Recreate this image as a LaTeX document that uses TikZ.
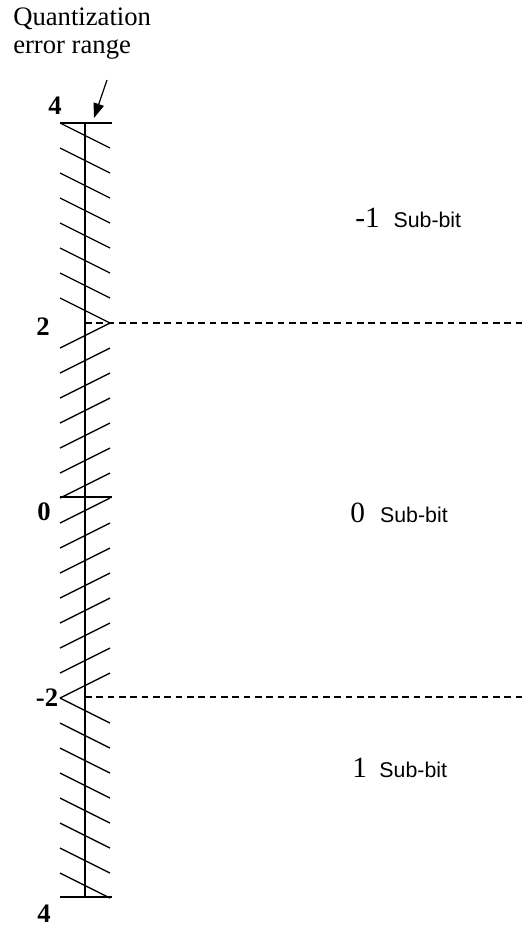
\documentclass[tikz,border=0pt]{standalone}
\usepackage{fontspec}
\setmainfont{Liberation Serif}
\setsansfont{Liberation Sans}
\usetikzlibrary{positioning, arrows.meta}

\begin{document}
\begin{tikzpicture}[
  x=0.75pt, y=-0.75pt,
  axisline/.style={line width=1pt},
  hatch/.style={line width=1pt},
  level/.style={dash pattern=on 5pt off 3.5pt, line width=0.8pt},
  ticklabel/.style={font=\fontsize{20}{20}\selectfont\bfseries, inner sep=0pt},
  bitnum/.style={font=\fontsize{22}{22}\selectfont, anchor=base west, inner sep=0pt},
  bitname/.style={font=\sffamily\fontsize{16}{16}\selectfont, inner sep=0pt},
  pointer/.style={-{Triangle[length=11pt, width=8pt]}, line width=0.9pt}
]
\useasboundingbox (0,0) rectangle (523,928);
% Caption and arrow
\node[anchor=north west, align=left, inner sep=0pt, font=\fontsize{20}{21}\selectfont] (qlabel) at (13,8) {Quantization\\error range};
\coordinate (arrtail) at (107,80);
\coordinate (arrtip) at (94,118);
\draw[pointer] (arrtail) -- (arrtip);
% Axis
\draw[axisline] (85,123) -- (85,897);
\draw[axisline] (60,123) -- (112,123);
\draw[axisline] (60,497) -- (112,497);
\draw[axisline] (60,897) -- (112,897);
% Hatching
\foreach \y in {123,148,...,298} \draw[hatch] (60,\y) -- ++(50,25);
\foreach \y in {348,373,...,698} \draw[hatch] (60,\y) -- ++(50,-25);
\foreach \y in {698,723,...,873} \draw[hatch] (60,\y) -- ++(50,25);
% Levels
\draw[level] (85,323) -- (523,323);
\draw[level] (85,697) -- (523,697);
% Tick labels
\node[ticklabel] (t4) at (55,106) {4};
\node[ticklabel] (t2) at (43,327) {2};
\node[ticklabel] (t0) at (44,512) {0};
\node[ticklabel] (tm2) at (47,698) {-2};
\node[ticklabel] (tm4) at (44,914) {4};
% Sub-bits
\node[bitnum] (m1) at (355,227) {-1};
\node[bitname, right=10pt of m1.base east, anchor=base west] (m1name) {Sub-bit};
\node[bitnum] (z0) at (350,522) {0};
\node[bitname, right=11pt of z0.base east, anchor=base west] (z0name) {Sub-bit};
\node[bitnum] (p1) at (352,777) {1};
\node[bitname, right=9pt of p1.base east, anchor=base west] (p1name) {Sub-bit};
\end{tikzpicture}
\end{document}
